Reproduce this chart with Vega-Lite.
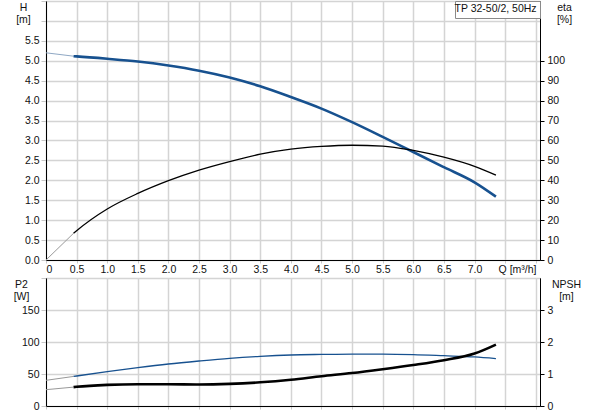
{
  "$schema": "https://vega.github.io/schema/vega-lite/v6.json",
  "background": "white",
  "padding": {"left": 12, "top": -5, "right": 5, "bottom": 5},
  "spacing": 18,
  "bounds": "flush",
  "config": {
    "font": "Liberation Sans",
    "view": {"stroke": "black", "strokeWidth": 1},
    "axis": {
      "labelFont": "Liberation Sans",
      "labelFontSize": 10.5,
      "labelColor": "#111",
      "labelOverlap": false,
      "tickCount": 60,
      "titleFont": "Liberation Sans",
      "titleFontSize": 10.5,
      "titleFontWeight": "normal",
      "titleColor": "#111",
      "domainColor": "black",
      "gridColor": "#d4d4d4",
      "gridWidth": 1.5,
      "tickColor": "#c8c8c8",
      "tickSize": 4,
      "labelPadding": 2
    }
  },
  "datasets": {
    "head": [
      {"Q": 0, "H": 5.2, "part": "start"},
      {"Q": 0.45, "H": 5.115, "part": "start"},
      {"Q": 0.45, "H": 5.115, "part": "main"},
      {"Q": 0.5, "H": 5.11, "part": "main"},
      {"Q": 1.0, "H": 5.05, "part": "main"},
      {"Q": 1.5, "H": 4.98, "part": "main"},
      {"Q": 2.0, "H": 4.88, "part": "main"},
      {"Q": 2.5, "H": 4.75, "part": "main"},
      {"Q": 3.0, "H": 4.58, "part": "main"},
      {"Q": 3.5, "H": 4.36, "part": "main"},
      {"Q": 4.0, "H": 4.09, "part": "main"},
      {"Q": 4.5, "H": 3.8, "part": "main"},
      {"Q": 5.0, "H": 3.46, "part": "main"},
      {"Q": 5.5, "H": 3.09, "part": "main"},
      {"Q": 6.0, "H": 2.71, "part": "main"},
      {"Q": 6.5, "H": 2.33, "part": "main"},
      {"Q": 7.0, "H": 1.95, "part": "main"},
      {"Q": 7.35, "H": 1.59, "part": "main"}
    ],
    "eff": [
      {"Q": 0, "eta": 0, "part": "start"},
      {"Q": 0.45, "eta": 13.4, "part": "start"},
      {"Q": 0.45, "eta": 13.4, "part": "main"},
      {"Q": 0.5, "eta": 14.7, "part": "main"},
      {"Q": 1.0, "eta": 25.6, "part": "main"},
      {"Q": 1.5, "eta": 33.4, "part": "main"},
      {"Q": 2.0, "eta": 39.8, "part": "main"},
      {"Q": 2.5, "eta": 45.1, "part": "main"},
      {"Q": 3.0, "eta": 49.4, "part": "main"},
      {"Q": 3.5, "eta": 53.1, "part": "main"},
      {"Q": 4.0, "eta": 55.6, "part": "main"},
      {"Q": 4.5, "eta": 57.0, "part": "main"},
      {"Q": 5.0, "eta": 57.6, "part": "main"},
      {"Q": 5.5, "eta": 57.2, "part": "main"},
      {"Q": 6.0, "eta": 55.0, "part": "main"},
      {"Q": 6.5, "eta": 51.6, "part": "main"},
      {"Q": 7.0, "eta": 47.0, "part": "main"},
      {"Q": 7.35, "eta": 42.6, "part": "main"}
    ],
    "power": [
      {"Q": 0, "P2": 40.1, "part": "start"},
      {"Q": 0.45, "P2": 46.2, "part": "start"},
      {"Q": 0.45, "P2": 46.2, "part": "main"},
      {"Q": 0.5, "P2": 46.9, "part": "main"},
      {"Q": 1.0, "P2": 53.6, "part": "main"},
      {"Q": 1.5, "P2": 59.9, "part": "main"},
      {"Q": 2.0, "P2": 65.6, "part": "main"},
      {"Q": 2.5, "P2": 70.3, "part": "main"},
      {"Q": 3.0, "P2": 74.5, "part": "main"},
      {"Q": 3.5, "P2": 77.6, "part": "main"},
      {"Q": 4.0, "P2": 79.7, "part": "main"},
      {"Q": 4.5, "P2": 80.6, "part": "main"},
      {"Q": 5.0, "P2": 81.2, "part": "main"},
      {"Q": 5.5, "P2": 81.2, "part": "main"},
      {"Q": 6.0, "P2": 80.4, "part": "main"},
      {"Q": 6.5, "P2": 78.6, "part": "main"},
      {"Q": 7.0, "P2": 76.6, "part": "main"},
      {"Q": 7.35, "P2": 74.0, "part": "main"}
    ],
    "npsh": [
      {"Q": 0, "NPSH": 0.51, "part": "start"},
      {"Q": 0.45, "NPSH": 0.59, "part": "start"},
      {"Q": 0.45, "NPSH": 0.59, "part": "main"},
      {"Q": 0.5, "NPSH": 0.6, "part": "main"},
      {"Q": 1.0, "NPSH": 0.66, "part": "main"},
      {"Q": 1.5, "NPSH": 0.68, "part": "main"},
      {"Q": 2.0, "NPSH": 0.68, "part": "main"},
      {"Q": 2.5, "NPSH": 0.67, "part": "main"},
      {"Q": 3.0, "NPSH": 0.69, "part": "main"},
      {"Q": 3.5, "NPSH": 0.74, "part": "main"},
      {"Q": 4.0, "NPSH": 0.82, "part": "main"},
      {"Q": 4.5, "NPSH": 0.93, "part": "main"},
      {"Q": 5.0, "NPSH": 1.03, "part": "main"},
      {"Q": 5.5, "NPSH": 1.15, "part": "main"},
      {"Q": 6.0, "NPSH": 1.28, "part": "main"},
      {"Q": 6.5, "NPSH": 1.43, "part": "main"},
      {"Q": 7.0, "NPSH": 1.64, "part": "main"},
      {"Q": 7.35, "NPSH": 1.92, "part": "main"}
    ],
    "label": [{"name": "TP 32-50/2, 50Hz"}]
  },
  "vconcat": [
    {
      "width": 494,
      "height": 259,
      "resolve": {"scale": {"y": "independent"}, "axis": {"y": "independent"}},
      "layer": [
        {
          "layer": [
            {
              "data": {"name": "head"},
              "transform": [{"filter": "datum.part == 'start'"}],
              "mark": {"type": "line", "color": "#8fa8c4", "strokeWidth": 1, "interpolate": "monotone"},
              "encoding": {
                "x": {
                  "field": "Q", "type": "quantitative",
                  "scale": {"domain": [0, 8.07], "nice": false, "zero": false},
                  "axis": {
                    "values": [0, 0.5, 1, 1.5, 2, 2.5, 3, 3.5, 4, 4.5, 5, 5.5, 6, 6.5, 7, 7.5, 8],
                    "labelExpr": "datum.value > 7.01 ? '' : (datum.value == 0 ? '0' : format(datum.value, '.1f'))",
                    "tickSize": 3,
                    "labelPadding": 1,
                    "title": "Q [m³/h]",
                    "titleX": 471,
                    "titleY": 4,
                    "titleAlign": "center",
                    "titleBaseline": "top"
                  }
                },
                "y": {
                  "field": "H", "type": "quantitative",
                  "scale": {"domain": [0, 6.5], "nice": false},
                  "axis": {
                    "values": [0, 0.5, 1, 1.5, 2, 2.5, 3, 3.5, 4, 4.5, 5, 5.5, 6, 6.5],
                    "format": ".1f",
                    "labelExpr": "datum.value > 5.51 ? '' : datum.label",
                    "tickSize": 5,
                    "title": ["H", "[m]"],
                    "titleAngle": 0,
                    "titleX": -23,
                    "titleY": 1,
                    "titleAlign": "center",
                    "titleBaseline": "top",
                    "titleLineHeight": 12
                  }
                }
              }
            },
            {
              "data": {"name": "head"},
              "transform": [{"filter": "datum.part == 'main'"}],
              "mark": {"type": "line", "color": "#17518f", "strokeWidth": 2.6, "interpolate": "monotone"},
              "encoding": {
                "x": {"field": "Q", "type": "quantitative"},
                "y": {"field": "H", "type": "quantitative"}
              }
            }
          ]
        },
        {
          "layer": [
            {
              "data": {"name": "eff"},
              "transform": [{"filter": "datum.part == 'start'"}],
              "mark": {"type": "line", "color": "#999999", "strokeWidth": 1, "interpolate": "monotone"},
              "encoding": {
                "x": {"field": "Q", "type": "quantitative"},
                "y": {
                  "field": "eta", "type": "quantitative",
                  "scale": {"domain": [0, 130], "nice": false},
                  "axis": {
                    "orient": "right",
                    "grid": false,
                    "values": [0, 10, 20, 30, 40, 50, 60, 70, 80, 90, 100],
                    "format": "d",
                    "tickColor": "black",
                    "labelPadding": 3,
                    "title": ["eta", "[%]"],
                    "titleAngle": 0,
                    "titleX": 24,
                    "titleY": 1,
                    "titleAlign": "center",
                    "titleBaseline": "top",
                    "titleLineHeight": 12
                  }
                }
              }
            },
            {
              "data": {"name": "eff"},
              "transform": [{"filter": "datum.part == 'main'"}],
              "mark": {"type": "line", "color": "black", "strokeWidth": 1.3, "interpolate": "monotone"},
              "encoding": {
                "x": {"field": "Q", "type": "quantitative"},
                "y": {"field": "eta", "type": "quantitative"}
              }
            }
          ]
        },
        {
          "data": {"name": "label"},
          "mark": {"type": "point", "opacity": 0},
          "encoding": {
            "color": {
              "field": "name", "type": "nominal",
              "scale": {"range": ["white"]},
              "legend": {
                "title": null,
                "orient": "top-right",
                "offset": 0,
                "padding": 3,
                "strokeColor": "#8a8a8a",
                "fillColor": "white",
                "symbolSize": 0,
                "symbolStrokeWidth": 0,
                "symbolOpacity": 0,
                "labelOffset": -14,
                "labelFont": "Liberation Sans",
                "labelFontSize": 10.5,
                "labelColor": "#111",
                "labelLimit": 200
              }
            }
          }
        }
      ]
    },
    {
      "width": 494,
      "height": 128,
      "resolve": {"scale": {"y": "independent"}, "axis": {"y": "independent"}},
      "layer": [
        {
          "layer": [
            {
              "data": {"name": "power"},
              "transform": [{"filter": "datum.part == 'start'"}],
              "mark": {"type": "line", "color": "#999999", "strokeWidth": 1, "interpolate": "monotone"},
              "encoding": {
                "x": {
                  "field": "Q", "type": "quantitative",
                  "scale": {"domain": [0, 8.07], "nice": false, "zero": false},
                  "axis": {
                    "values": [0, 0.5, 1, 1.5, 2, 2.5, 3, 3.5, 4, 4.5, 5, 5.5, 6, 6.5, 7, 7.5, 8],
                    "labels": false,
                    "tickSize": 3,
                    "title": null
                  }
                },
                "y": {
                  "field": "P2", "type": "quantitative",
                  "scale": {"domain": [0, 200], "nice": false},
                  "axis": {
                    "values": [0, 50, 100, 150, 200],
                    "format": "d",
                    "labelExpr": "datum.value > 151 ? '' : datum.label",
                    "tickSize": 5,
                    "title": ["P2", "[W]"],
                    "titleAngle": 0,
                    "titleX": -25,
                    "titleY": 1,
                    "titleAlign": "center",
                    "titleBaseline": "top",
                    "titleLineHeight": 12
                  }
                }
              }
            },
            {
              "data": {"name": "power"},
              "transform": [{"filter": "datum.part == 'main'"}],
              "mark": {"type": "line", "color": "#17518f", "strokeWidth": 1.3, "interpolate": "monotone"},
              "encoding": {
                "x": {"field": "Q", "type": "quantitative"},
                "y": {"field": "P2", "type": "quantitative"}
              }
            }
          ]
        },
        {
          "layer": [
            {
              "data": {"name": "npsh"},
              "transform": [{"filter": "datum.part == 'start'"}],
              "mark": {"type": "line", "color": "#999999", "strokeWidth": 1, "interpolate": "monotone"},
              "encoding": {
                "x": {"field": "Q", "type": "quantitative"},
                "y": {
                  "field": "NPSH", "type": "quantitative",
                  "scale": {"domain": [0, 4], "nice": false},
                  "axis": {
                    "orient": "right",
                    "grid": false,
                    "values": [0, 1, 2, 3],
                    "format": "d",
                    "tickColor": "black",
                    "labelPadding": 3,
                    "title": ["NPSH", "[m]"],
                    "titleAngle": 0,
                    "titleX": 26,
                    "titleY": 1,
                    "titleAlign": "center",
                    "titleBaseline": "top",
                    "titleLineHeight": 12
                  }
                }
              }
            },
            {
              "data": {"name": "npsh"},
              "transform": [{"filter": "datum.part == 'main'"}],
              "mark": {"type": "line", "color": "black", "strokeWidth": 2.6, "interpolate": "monotone"},
              "encoding": {
                "x": {"field": "Q", "type": "quantitative"},
                "y": {"field": "NPSH", "type": "quantitative"}
              }
            }
          ]
        }
      ]
    }
  ]
}
